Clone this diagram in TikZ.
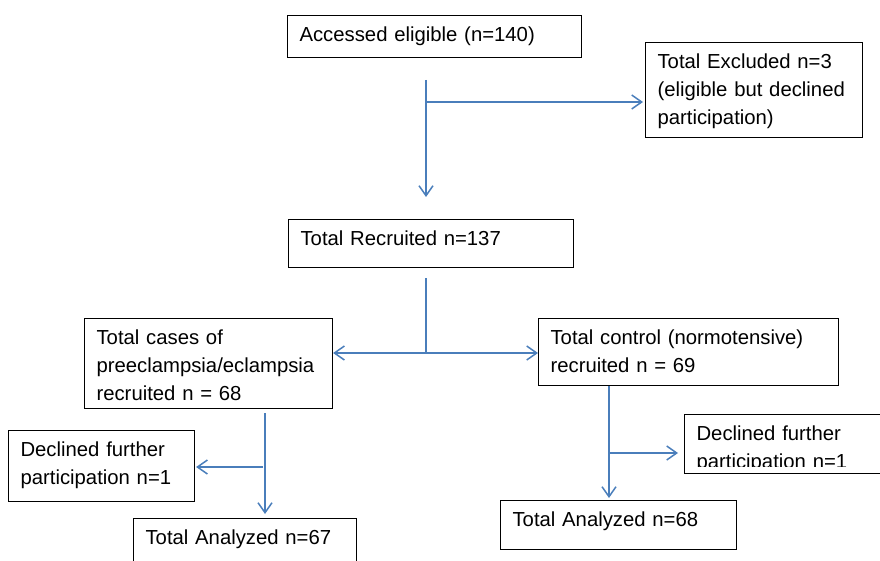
\documentclass[tikz,border=0pt]{standalone}
\usepackage{fontspec}
\setmainfont{Liberation Sans}
\usepackage{xcolor}
\usepackage{tikz}
\usetikzlibrary{arrows.meta}
\definecolor{flowblue}{HTML}{4A7EBB}

\begin{document}
\begin{tikzpicture}[x=1pt, y=-1pt,
    box/.style={rectangle, draw, line width=1.1pt, anchor=north west, align=left,
        inner xsep=12pt, inner ysep=9pt, text height=17pt,
        font=\fontsize{20.3}{28}\selectfont},
    link/.style={draw=flowblue, line width=1.5pt},
    flow/.style={link, -{Straight Barb[length=10pt, width=14pt]}}]
    \useasboundingbox (0,0) rectangle (880,561);

    \node[box, text width=270pt, text depth=7pt] (eligible) at (287,15) {Accessed eligible (n=140)};
    \node[box, text width=193pt, text depth=60pt] (excluded) at (645,42) {Total Excluded n=3\\(eligible but declined\\participation)};
    \node[box, text width=261pt, text depth=13pt] (recruited) at (288,219) {Total Recruited n=137};
    \node[box, text width=224pt, text depth=55pt] (cases) at (84,318) {Total cases of\\preeclampsia/eclampsia\\recruited n = 68};
    \node[box, text width=276pt, text depth=32pt] (control) at (538,318) {Total control (normotensive)\\recruited n = 69};
    \node[box, text width=162pt, text depth=36pt] (declinedL) at (8,430) {Declined further\\participation n=1};
    \node[box, text width=199pt, text depth=20pt] (analyzedL) at (133,518) {Total Analyzed n=67};
    \node[box, text width=191pt, text depth=24pt] (declinedR) at (684,414) {Declined further\\participation n=1};
    \fill[white] ([xshift=1pt, yshift=1pt]declinedR.south west) rectangle ([yshift=7pt]declinedR.south east);
    \node[box, text width=212pt, text depth=14pt] (analyzedR) at (500,500) {Total Analyzed n=68};

    \coordinate (trunkA) at (426,80);
    \coordinate (splitA) at (426,102);
    \draw[flow, shorten >=22pt] (trunkA) -- (trunkA |- recruited.north);
    \draw[flow, shorten >=2pt] (splitA) -- (splitA -| excluded.west);

    \coordinate (trunkB) at (426,278);
    \coordinate (splitB) at (426,353);
    \draw[link] (trunkB) -- (splitB);
    \draw[flow] (splitB) -- (splitB -| cases.east);
    \draw[flow] (splitB) -- (splitB -| control.west);

    \coordinate (trunkC) at (265,413);
    \coordinate (splitC) at (263,467);
    \draw[flow, shorten >=4pt] (trunkC) -- (trunkC |- analyzedL.north);
    \draw[flow, shorten >=1pt] (splitC) -- (splitC -| declinedL.east);

    \coordinate (trunkD) at (609,386);
    \coordinate (splitD) at (609,453);
    \draw[flow, shorten >=2pt] (trunkD) -- (trunkD |- analyzedR.north);
    \draw[flow, shorten >=6pt] (splitD) -- (splitD -| declinedR.west);
\end{tikzpicture}
\end{document}
